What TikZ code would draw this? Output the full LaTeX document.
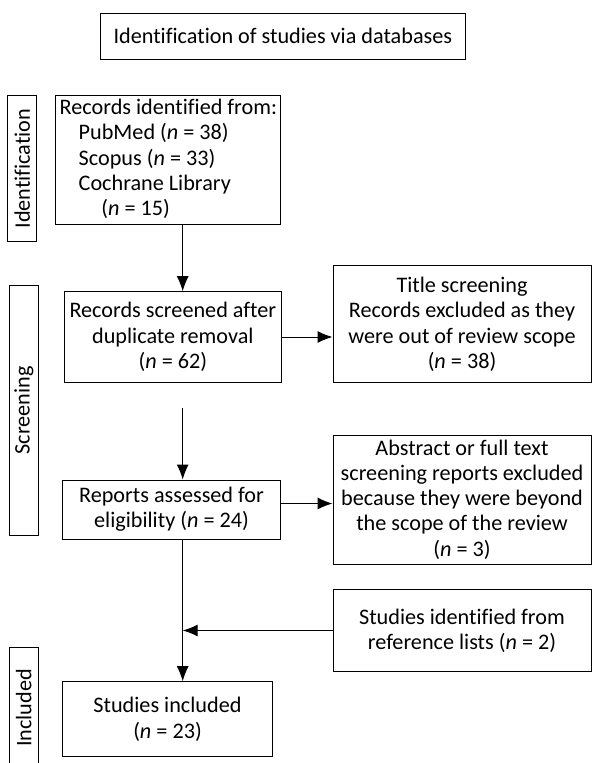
\documentclass[tikz,border=0pt]{standalone}
\usepackage{fontspec}
\setmainfont[Ligatures=CommonOff]{Carlito}
\usetikzlibrary{arrows.meta}
\newcommand\diagfont{\fontsize{22.2}{25.3}\selectfont}
\begin{document}
\begin{tikzpicture}[x=1pt,y=-1pt,
  box/.style={draw, line width=1pt, align=center, inner sep=0pt, font=\diagfont},
  side/.style={draw, line width=1pt, rotate=90, inner sep=0pt, font=\diagfont},
  arr/.style={line width=1pt, -{Latex[length=15pt,width=12pt]}}]
\clip (0,0) rectangle (593,763);
\fill[white] (0,0) rectangle (593,763);
\coordinate (spine) at (182.7,0);
\coordinate (ra) at (0,503.5);
\node[box, minimum width=364.3, minimum height=46] (title) at (282.85,36.3) {Identification of studies via databases};
\node[side, minimum width=146, minimum height=29] (idside) at (22.2,168.7) {Identification};
\node[side, minimum width=249.3, minimum height=29] (scrside) at (23.8,410.35) {Screening};
\node[side, minimum width=120.3, minimum height=29] (incside) at (23.8,707.85) {Included};
\node[box, minimum width=225.7, minimum height=128.6] (ident) at (167.85,160) {};
\node[align=left, inner sep=0pt, font=\diagfont, anchor=west] (identtxt) at ([xshift=5pt,yshift=1pt]ident.west)
  {Records identified from:\\\hspace*{19pt}PubMed (\textit{n} = 38)\\\hspace*{19pt}Scopus (\textit{n} = 33)\\\hspace*{19pt}Cochrane Library\\\hspace*{41.7pt}(\textit{n} = 15)};
\node[box, minimum width=217.7, minimum height=90.6] (screened) at (172.85,337)
  {Records screened after\\duplicate removal\\(\textit{n} = 62)};
\node[box, minimum width=258, minimum height=117] (titlescr) at (462,324.2)
  {Title screening\\Records excluded as they\\were out of review scope\\(\textit{n} = 38)};
\node[box, minimum width=218.4, minimum height=59] (reports) at (171.5,509.5)
  {Reports assessed for\\eligibility (\textit{n} = 24)};
\node[box, minimum width=258, minimum height=129] (abstract) at (462,499.5)
  {Abstract or full text\\screening reports excluded\\because they were beyond\\the scope of the review\\(\textit{n} = 3)};
\node[box, minimum width=258, minimum height=82.4] (refs) at (462,630.5)
  {Studies identified from\\reference lists (\textit{n} = 2)};
\node[box, minimum width=209.6, minimum height=75] (included) at (167.5,719.2)
  {Studies included\\(\textit{n} = 23)};
\coordinate (gapstart) at (182.7,408.3);
\draw[arr] (ident.south -| spine) -- (screened.north -| spine);
\draw[arr] (screened.east) -- (screened.east -| titlescr.west);
\draw[arr] (gapstart) -- (reports.north -| spine);
\draw[arr] (reports.east |- ra) -- (abstract.west |- ra);
\draw[arr] (reports.south -| spine) -- (included.north -| spine);
\draw[arr] (refs.west) -- (refs.west -| spine);
\end{tikzpicture}
\end{document}
